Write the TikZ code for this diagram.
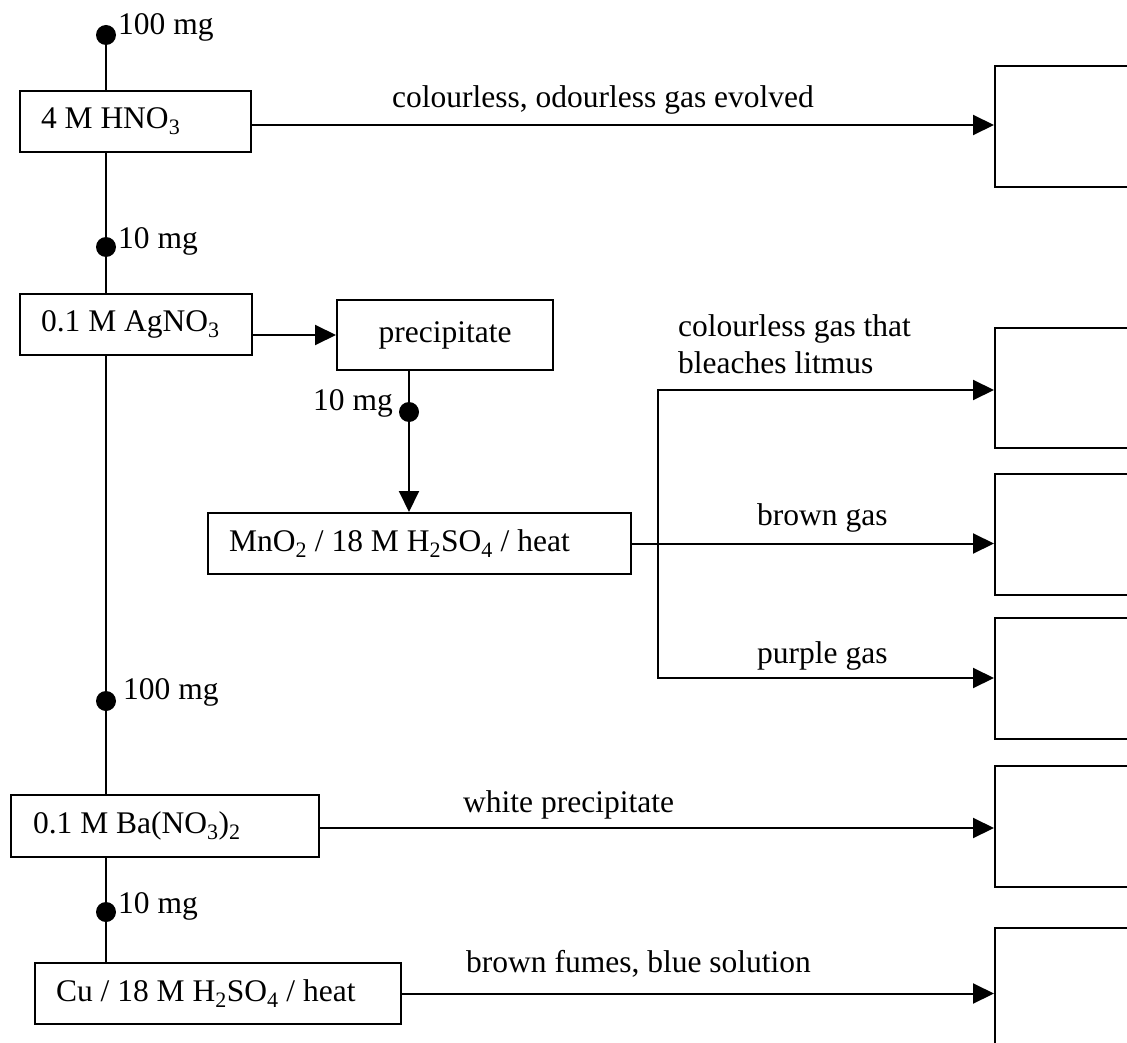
\documentclass[tikz,border=0pt]{standalone}
\usepackage{fontspec}
\setmainfont{Liberation Serif}
\usetikzlibrary{arrows.meta}
\begin{document}
\begin{tikzpicture}[x=1pt,y=-1pt,
  every node/.style={font=\fontsize{31.5}{37}\selectfont},
  ln/.style={line width=2pt},
  arr/.style={line width=2pt,-{Triangle[length=21pt,width=20pt]}},
  chembox/.style={draw,line width=2pt,rectangle,anchor=north west,inner ysep=0pt,minimum height=61pt,align=flush left},
  endbox/.style={draw,line width=2pt,rectangle,anchor=north west,inner sep=0pt,minimum width=160pt,minimum height=121pt},
  blob/.style={circle,fill,inner sep=0pt,minimum size=20pt},
  lbl/.style={inner sep=0pt,anchor=base west},
]
\useasboundingbox (0,0) rectangle (1127,1043);
\clip (0,0) rectangle (1127,1043);

% left column boxes
\node[chembox, inner xsep=21pt, text width=189pt] (hno3) at (19,90) {4 M HNO\textsubscript{3}};
\node[chembox, inner xsep=21pt, text width=190pt] (ag) at (19,293) {0.1 M AgNO\textsubscript{3}};
\node[chembox, inner xsep=10pt, text width=196pt, align=flush center, minimum height=70pt] (prec) at (336,299) {precipitate};
\node[chembox, inner xsep=21pt, text width=381pt] (mno) at (207,512) {MnO\textsubscript{2} / 18 M H\textsubscript{2}SO\textsubscript{4} / heat};
\node[chembox, inner xsep=22pt, text width=264pt, minimum height=62pt] (ba) at (10,794) {0.1 M Ba(NO\textsubscript{3})\textsubscript{2}};
\node[chembox, inner xsep=21pt, text width=324pt] (cu) at (34,962) {Cu / 18 M H\textsubscript{2}SO\textsubscript{4} / heat};

% result boxes (cut by the right edge)
\node[endbox] (r1) at (994,65) {};
\node[endbox, minimum height=120pt] (r2) at (994,327) {};
\node[endbox] (r3) at (994,473) {};
\node[endbox] (r4) at (994,617) {};
\node[endbox] (r5) at (994,765) {};
\node[endbox, minimum height=140pt] (r6) at (994,927) {};

% dots
\node[blob] (d1) at (106,35) {};
\node[blob] (d2) at (106,247) {};
\node[blob] (d3) at (409,412) {};
\node[blob] (d4) at (106,701) {};
\node[blob] (d5) at (106,912) {};

% vertical connectors
\draw[ln] (d1.center) -- (d1 |- hno3.north);
\draw[ln] (hno3.south -| d1) -- (d2.center) -- (d2 |- ag.north);
\draw[ln] (ag.south -| d2) -- (d4.center) -- (d4 |- ba.north);
\draw[ln] (ba.south -| d4) -- (d5.center) -- (d5 |- cu.north);
\draw[arr] (ag.east |- prec.west) -- (prec.west);
\draw[ln] (prec.south -| d3) -- (d3.center);
\draw[arr] (d3.center) -- (d3 |- mno.north);

% horizontal arrows
\coordinate (a1) at ([yshift=-3.5pt]hno3.east);
\draw[arr] (a1) -- (a1 -| r1.west);
\coordinate (btop) at (658,390);
\coordinate (bbot) at (658,678);
\draw[arr] (bbot) -- (btop) -- (btop -| r2.west);
\draw[arr] (btop) -- (bbot) -- (bbot -| r4.west);
\draw[arr] (mno.east) -- (mno.east -| r3.west);
\coordinate (a5) at ([yshift=-2pt]ba.east);
\draw[arr] (a5) -- (a5 -| r5.west);
\draw[arr] (cu.east) -- (cu.east -| r6.west);

% labels
\node[lbl] (l1) at (118,35) {100 mg};
\node[lbl] (l2) at (118,248) {10 mg};
\node[lbl, anchor=base east] (l3) at (393,410) {10 mg};
\node[lbl] (l4) at (123,699) {100 mg};
\node[lbl] (l5) at (118,913) {10 mg};
\node[lbl] (t1) at (392,108) {colourless, odourless gas evolved};
\node[lbl, align=flush left] (t2) at (678,373) {colourless gas that\\bleaches litmus};
\node[lbl] (t3) at (757,525) {brown gas};
\node[lbl] (t4) at (757,663) {purple gas};
\node[lbl] (t5) at (463,812) {white precipitate};
\node[lbl] (t6) at (466,972) {brown fumes, blue solution};
\end{tikzpicture}
\end{document}
